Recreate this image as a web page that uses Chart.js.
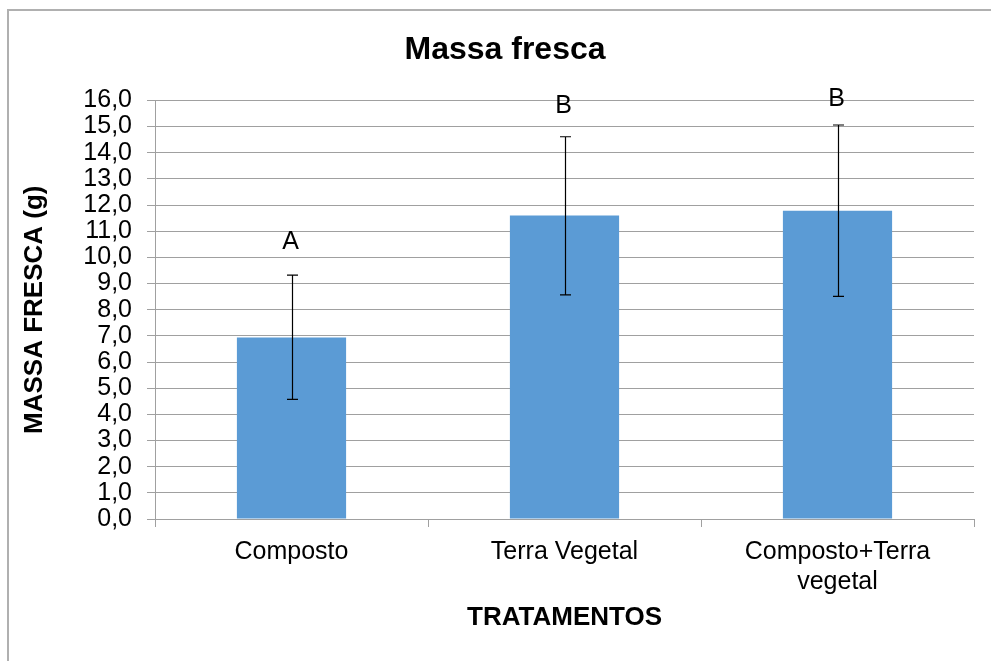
<!DOCTYPE html>
<html>
<head>
<meta charset="utf-8">
<script src="https://cdn.jsdelivr.net/npm/chart.js@4"></script>
<style>
  body { margin: 0; background: #fff; }
  canvas { display: block; }
</style>
</head>
<body>
<canvas id="massaChart" width="991" height="661"></canvas>
<script>
// Chart data
const categories = ['Composto', 'Terra Vegetal', ['Composto+Terra', 'vegetal']];
const massaFresca = [6.94, 11.6, 11.78];
const errLow = [4.57, 8.57, 8.51];
const errHigh = [9.32, 14.61, 15.06];
const letters = ['A', 'B', 'B'];
const letterPos = [10.6, 15.8, 16.05];
const yTicks = [0, 1, 2, 3, 4, 5, 6, 7, 8, 9, 10, 11, 12, 13, 14, 15, 16];

const FONT = "'Liberation Sans', Arial, sans-serif";
const GRID = '#a0a0a0';

// Outer frame (only top and left edges are visible in the picture)
const framePlugin = {
    id: 'frame',
    beforeDraw(chart) {
        const c = chart.ctx;
        c.save();
        c.fillStyle = '#b0b0b0';
        c.fillRect(7, 9, chart.width, 2);
        c.fillRect(7, 9, 2, chart.height);
        c.restore();
    }
};

// Error bars and significance letters
const errorBarPlugin = {
    id: 'errorBars',
    afterDatasetsDraw(chart) {
        const c = chart.ctx;
        const y = chart.scales.y;
        const meta = chart.getDatasetMeta(0);
        c.save();
        c.strokeStyle = '#000';
        c.lineWidth = 1.2;
        meta.data.forEach((bar, i) => {
            const x = Math.round(bar.x) + 0.5;
            const top = y.getPixelForValue(errHigh[i]);
            const bot = y.getPixelForValue(errLow[i]);
            c.beginPath();
            c.moveTo(x, top); c.lineTo(x, bot);
            c.moveTo(x - 5.5, top); c.lineTo(x + 5.5, top);
            c.moveTo(x - 5.5, bot); c.lineTo(x + 5.5, bot);
            c.stroke();

            c.fillStyle = '#000';
            c.font = '25px ' + FONT;
            c.textAlign = 'center';
            c.textBaseline = 'middle';
            c.fillText(letters[i], bar.x - 1, y.getPixelForValue(letterPos[i]));
        });
        c.restore();
    }
};

const ctx = document.getElementById('massaChart').getContext('2d');
const massaChart = new Chart(ctx, {
    type: 'bar',
    data: {
        labels: categories,
        datasets: [{
            data: massaFresca,
            backgroundColor: '#5b9bd5',
            borderWidth: 0,
            barPercentage: 0.4,
            categoryPercentage: 1.0
        }]
    },
    options: {
        responsive: false,
        animation: false,
        // left padding keeps the title centred where the reference has it
        layout: { padding: { left: 36, right: 17, top: 0, bottom: 0 } },
        plugins: {
            legend: { display: false },
            tooltip: { enabled: false },
            title: {
                display: true,
                text: 'Massa fresca',
                color: '#000',
                font: { family: FONT, size: 32, weight: 'bold' },
                padding: { top: 31, bottom: 31 }
            }
        },
        scales: {
            x: {
                afterFit(scale) { scale.height = 142; },
                grid: { drawOnChartArea: false, drawTicks: true, tickLength: 8, color: GRID },
                border: { color: GRID },
                ticks: {
                    color: '#000',
                    font: { family: FONT, size: 25 },
                    padding: 10,
                    maxRotation: 0,
                    autoSkip: false
                },
                title: {
                    display: true,
                    text: 'TRATAMENTOS',
                    color: '#000',
                    font: { family: FONT, size: 26, weight: 'bold' },
                    padding: { top: 0, bottom: 28 }
                }
            },
            y: {
                min: 0,
                max: 16,
                afterFit(scale) { scale.width = 119; },
                afterBuildTicks(scale) { scale.ticks = yTicks.map(v => ({ value: v })); },
                grid: { color: GRID, tickLength: 8 },
                border: { color: GRID },
                ticks: {
                    color: '#000',
                    font: { family: FONT, size: 25 },
                    padding: 15,
                    autoSkip: false,
                    callback: v => v.toFixed(1).replace('.', ',')
                },
                title: {
                    display: true,
                    text: 'MASSA FRESCA (g)',
                    color: '#000',
                    font: { family: FONT, size: 26, weight: 'bold' },
                    padding: { top: -17, bottom: 0 }
                }
            }
        }
    },
    plugins: [framePlugin, errorBarPlugin]
});
</script>
</body>
</html>
